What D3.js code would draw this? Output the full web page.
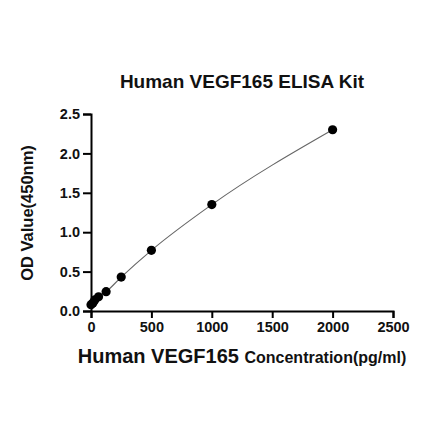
<!DOCTYPE html>
<html>
<head>
<meta charset="utf-8">
<script src="https://cdn.jsdelivr.net/npm/d3@7"></script>
<style>
  body { margin: 0; background: #fff; }
  svg { display: block; font-family: Arial, "Liberation Sans", sans-serif; }
</style>
</head>
<body>
<div id="chart"></div>
<script>
// standard curve readings
var concentrations = [0, 15.6, 31.25, 62.5, 125, 250, 500, 1000, 2000];
var odValues = [0.08, 0.10, 0.14, 0.18, 0.245, 0.43, 0.77, 1.35, 2.30];
var xTicks = [0, 500, 1000, 1500, 2000, 2500];
var yTicks = [0.0, 0.5, 1.0, 1.5, 2.0, 2.5];

var width = 440, height = 441;
var margin = {left: 91, right: 47, top: 114, bottom: 130};

var svg = d3.select("#chart").append("svg")
  .attr("width", width)
  .attr("height", height);

var x = d3.scaleLinear().domain([0, 2500]).range([margin.left, width - margin.right]);
var y = d3.scaleLinear().domain([0, 2.5]).range([height - margin.bottom, margin.top]);

var pts = concentrations.map((c, i) => ({c: c, od: odValues[i]}));

// fitted curve
var line = d3.line()
  .x(d => x(d.c))
  .y(d => y(d.od))
  .curve(d3.curveMonotoneX);

svg.append("path")
  .datum(pts)
  .attr("fill", "none")
  .attr("stroke", "#666")
  .attr("stroke-width", 1.1)
  .attr("d", line);

svg.selectAll("circle.pt")
  .data(pts)
  .join("circle")
    .attr("class", "pt")
    .attr("cx", d => x(d.c))
    .attr("cy", d => y(d.od))
    .attr("r", 4.6)
    .attr("fill", "#000");

// axes
var xAxis = svg.append("g")
  .attr("transform", `translate(0,${y(0)})`)
  .call(d3.axisBottom(x).tickValues(xTicks).tickSize(7).tickPadding(4).tickFormat(d3.format("d")));

var yAxis = svg.append("g")
  .attr("transform", `translate(${x(0)},0)`)
  .call(d3.axisLeft(y).tickValues(yTicks).tickSize(8).tickPadding(3).tickFormat(d3.format(".1f")));

[xAxis, yAxis].forEach(g => {
  g.select(".domain").attr("stroke", "#000").attr("stroke-width", 2);
  g.selectAll(".tick line").attr("stroke", "#000").attr("stroke-width", 2);
  g.selectAll(".tick text")
    .attr("fill", "#111")
    .style("font-size", "14.5px")
    .style("font-weight", "bold")
    .style("font-family", "Arial, 'Liberation Sans', sans-serif");
});

svg.append("text")
  .attr("x", 242)
  .attr("y", 88)
  .attr("text-anchor", "middle")
  .style("font-size", "19px")
  .style("font-weight", "bold")
  .attr("fill", "#111")
  .text("Human VEGF165 ELISA Kit");

var xl = svg.append("text")
  .attr("x", 242)
  .attr("y", 363)
  .attr("text-anchor", "middle")
  .style("font-weight", "bold")
  .attr("fill", "#111");
xl.append("tspan").style("font-size", "20px").text("Human VEGF165 ");
xl.append("tspan").style("font-size", "16px").text("Concentration(pg/ml)");

svg.append("text")
  .attr("transform", "translate(33,213) rotate(-90)")
  .attr("text-anchor", "middle")
  .style("font-size", "16.5px")
  .style("font-weight", "bold")
  .attr("fill", "#111")
  .text("OD Value(450nm)");
</script>
</body>
</html>
